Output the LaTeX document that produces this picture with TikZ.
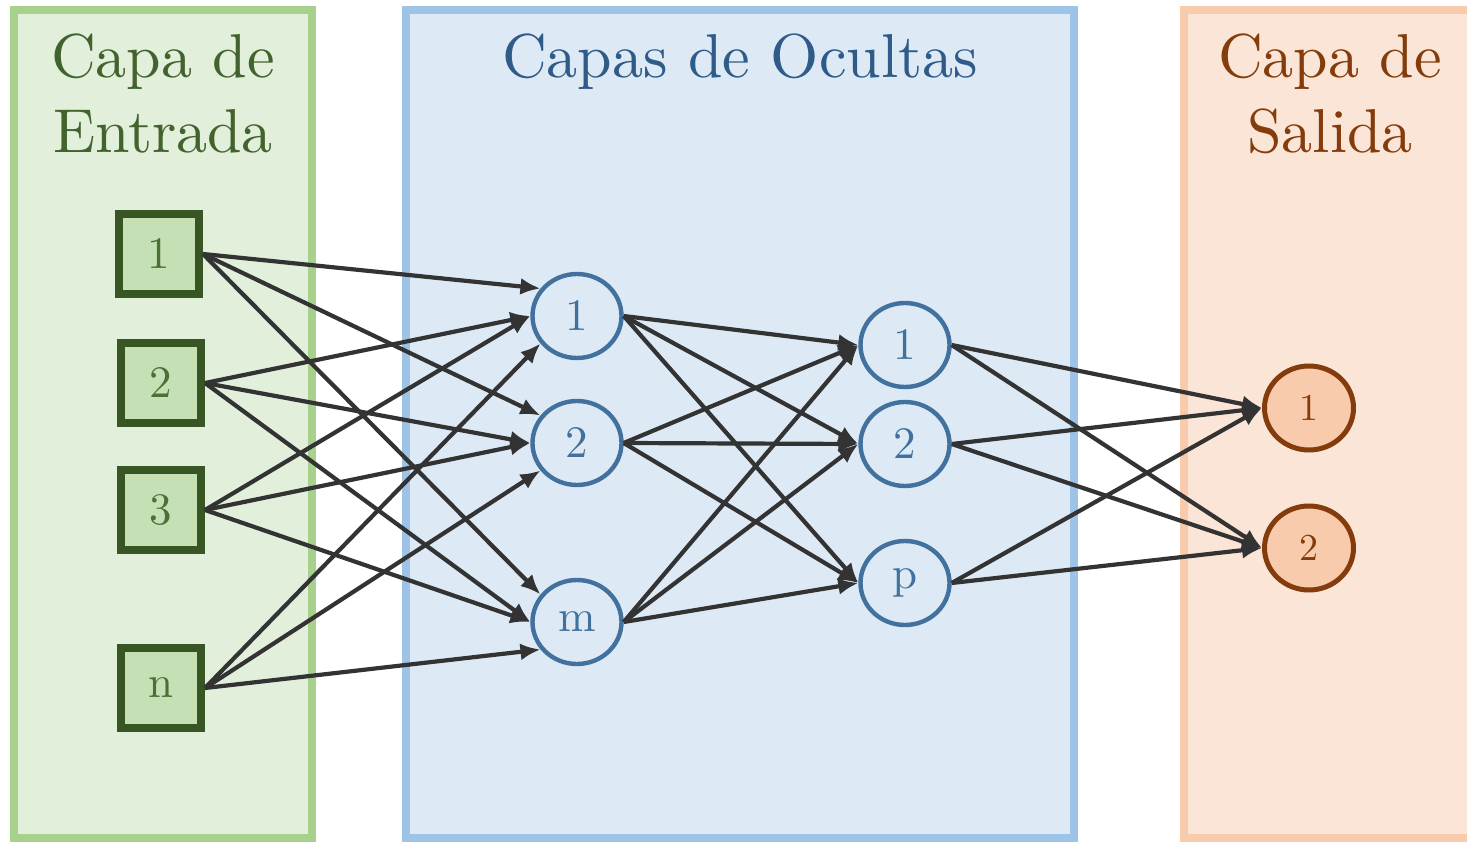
\documentclass[tikz,border=0pt]{standalone}
\usetikzlibrary{arrows.meta,shapes.geometric}
\definecolor{gfill}{HTML}{E2EFDA}
\definecolor{gline}{HTML}{A9D18E}
\definecolor{gtext}{HTML}{43632E}
\definecolor{sqfill}{HTML}{C5E0B4}
\definecolor{sqline}{HTML}{375623}
\definecolor{sqtext}{HTML}{4A7035}
\definecolor{bfill}{HTML}{DDEAF6}
\definecolor{bline}{HTML}{9DC3E6}
\definecolor{btext}{HTML}{2F5B88}
\definecolor{cline}{HTML}{41719C}
\definecolor{ofill}{HTML}{FBE5D6}
\definecolor{oline}{HTML}{F8CBAD}
\definecolor{otext}{HTML}{843C0C}
\definecolor{ocfill}{HTML}{F8CBAD}
\definecolor{edgec}{HTML}{333333}
\font\ttlfont="[lmroman10-regular]:+tlig;" at 31pt
\font\digfont="[lmroman10-regular]:+tlig;" at 22.5pt
\font\digofont="[lmroman10-regular]:+tlig;" at 19pt
\begin{document}
\begin{tikzpicture}[x=0.5pt,y=-0.5pt,
  title/.style={inner sep=0pt, anchor=north, align=center, font={\fontsize{31}{37.5}\selectfont\ttlfont}},
  inbox/.style={draw=sqline, fill=sqfill, line width=4pt, minimum size=40pt, inner sep=0pt, text=sqtext, font=\digfont},
  hid/.style={ellipse, draw=cline, line width=2.2pt, minimum width=44.5pt, minimum height=42pt, inner sep=0pt, text=cline, font=\digfont},
  outn/.style={ellipse, draw=otext, fill=ocfill, line width=2.5pt, minimum width=44.5pt, minimum height=42pt, inner sep=0pt, text=otext, font=\digofont},
  conn/.style={draw=edgec, line width=2.1pt, -{Latex[length=10pt,width=8.5pt]}}
]
\useasboundingbox (0,0) rectangle (1467,844);
% layer boxes
\draw[fill=gfill, draw=gline, line width=4pt] (14,10) rectangle (312,838);
\draw[fill=bfill, draw=bline, line width=4pt] (406,10) rectangle (1074,838);
\fill[ofill] (1184,10) rectangle (1467,838);
\draw[oline, line width=4pt] (1467,10) -- (1184,10) -- (1184,838) -- (1467,838);
% titles
\node[title, text=gtext] (t1) at (163,33) {Capa de\\Entrada};
\node[title, text=btext] (t2) at (740,33) {Capas de Ocultas};
\node[title, text=otext] (t3) at (1330,33) {Capa de\\Salida};
% input nodes
\node[inbox] (i1) at (159,254) {1};
\node[inbox] (i2) at (161,383) {2};
\node[inbox] (i3) at (161,510) {3};
\node[inbox] (i4) at (161,688) {n};
% hidden layer 1
\node[hid] (a1) at (577,316) {1};
\node[hid] (a2) at (577,443) {2};
\node[hid] (am) at (577,622) {m};
% hidden layer 2
\node[hid] (b1) at (905,345) {1};
\node[hid] (b2) at (905,444) {2};
\node[hid] (bp) at (905,583) {p};
% outputs
\node[outn] (o1) at (1309,408) {1};
\node[outn] (o2) at (1309,548) {2};
% connections
\foreach \s/\a in {i1/143, i2/180, i3/180, i4/217}
  \foreach \t in {a1,a2,am}
    \draw[conn] (\s.east) -- (\t.\a);
\foreach \s in {a1,a2,am}
  \foreach \t in {b1,b2,bp}
    \draw[conn] (\s.east) -- (\t.west);
\foreach \s in {b1,b2,bp}
  \foreach \t in {o1,o2}
    \draw[conn] (\s.east) -- (\t.west);
\end{tikzpicture}
\end{document}
